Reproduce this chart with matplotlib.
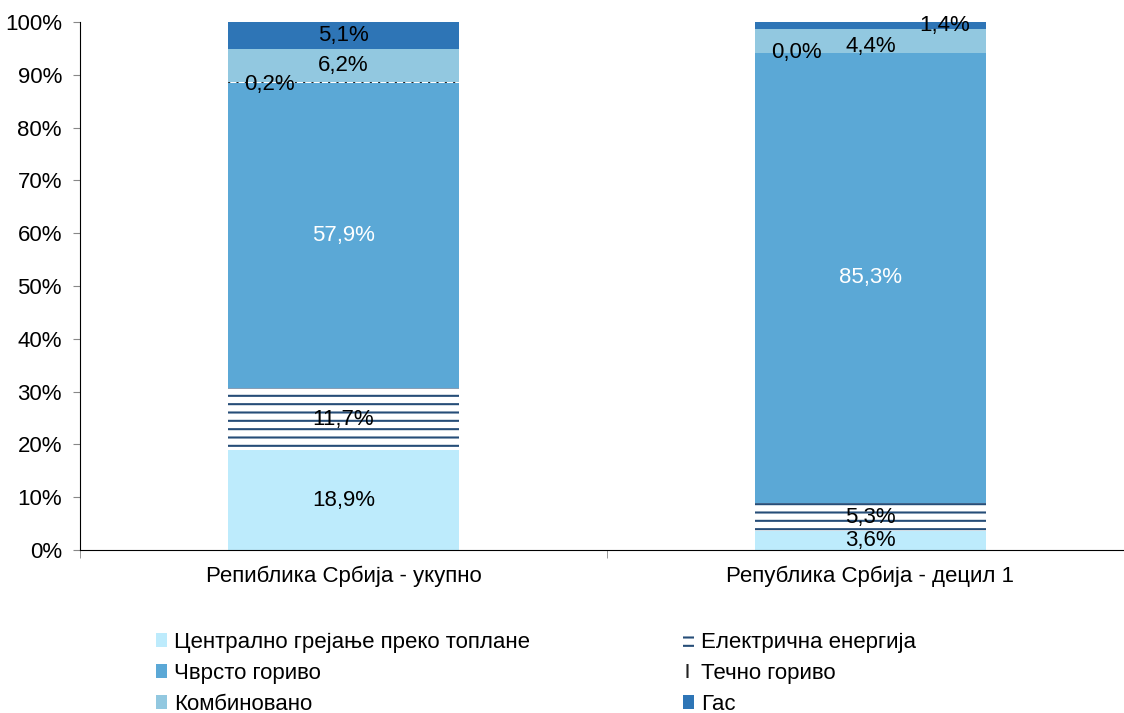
import matplotlib.pyplot as plt
from matplotlib.patches import Patch

plt.rcParams['font.family'] = ['Liberation Sans', 'DejaVu Sans']
plt.rcParams['hatch.linewidth'] = 1.5

categories = ["Репиблика Србија - укупно", "Република Србија - децил 1"]
series_names = ["Централно грејање преко топлане", "Електрична енергија",
                "Чврсто гориво", "Течно гориво", "Комбиновано", "Гас"]
central = [18.9, 3.6]
electric = [11.7, 5.3]
solid = [57.9, 85.3]
liquid = [0.2, 0.0]
combined = [6.2, 4.4]
gas = [5.1, 1.4]
series = [central, electric, solid, liquid, combined, gas]

# fill, hatch, hatch colour, label colour
styles = [
    ("#BDEBFC", None, "none", "black"),
    ("white", "--", "#264D78", "black"),
    ("#5BA8D6", None, "none", "white"),
    ("white", "||", "#222222", "black"),
    ("#92C8E0", None, "none", "black"),
    ("#2E75B6", None, "none", "black"),
]

FS = 16

fig = plt.figure(figsize=(11.24, 7.13), dpi=100)
ax = fig.add_axes([80 / 1124, 1 - 550 / 713, (1134 - 80) / 1124, (550 - 22) / 713])

x = [0, 1]
width = 0.44
bottom = [0.0, 0.0]
handles = []
for vals, name, (fc, hatch, ec, tc) in zip(series, series_names, styles):
    ax.bar(x, vals, width, bottom=bottom, color=fc, hatch=hatch,
           edgecolor=ec, linewidth=0)
    for i, v in enumerate(vals):
        mid = bottom[i] + v / 2
        dx = 0
        dy = 0
        # tiny segments get nudged sideways like in the source
        if name == "Течно гориво":
            dx = -0.14
            dy = -0.4 if i == 0 else 0
        if name == "Гас" and i == 1:
            dx = 0.14
        if name == "Комбиновано" and i == 1:
            dy = -1.0
        ax.text(x[i] + dx, mid + dy, f"{v:.1f}%".replace(".", ","),
                ha="center", va="center", fontsize=FS, color=tc)
    bottom = [b + v for b, v in zip(bottom, vals)]
    handles.append(Patch(facecolor=fc, hatch=hatch, edgecolor=ec,
                         linewidth=0, label=name))

ax.set_xlim(-0.5, 1.5)
ax.set_ylim(0, 100)
ax.set_yticks(range(0, 101, 10))
ax.set_yticklabels([f"{t}%" for t in range(0, 101, 10)], fontsize=FS)
ax.set_xticks(x)
ax.set_xticklabels(categories, fontsize=FS)
ax.set_xticks([-0.5, 0.5, 1.5], minor=True)
ax.tick_params(axis="x", which="major", length=0, pad=11)
ax.tick_params(axis="x", which="minor", length=6, color="#888888")
ax.tick_params(axis="y", length=5, color="#888888", pad=8)
for s in ["top", "right"]:
    ax.spines[s].set_visible(False)
ax.spines["left"].set_color("black")
ax.spines["bottom"].set_color("black")

order = [0, 2, 4, 1, 3, 5]
fig.legend([handles[i] for i in order], [series_names[i] for i in order],
           loc="upper left", bbox_to_anchor=(0.139, 0.114), ncol=2,
           frameon=False, fontsize=FS, handlelength=0.5, handleheight=0.6,
           handletextpad=0.3, labelspacing=0.45, columnspacing=6.9,
           borderpad=0, borderaxespad=0)

fig.savefig("out.png", dpi=100)
